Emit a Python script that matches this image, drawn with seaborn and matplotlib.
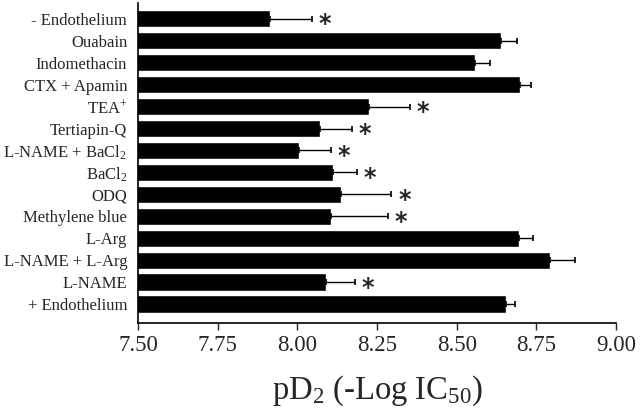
import seaborn as sns
import pandas as pd
import matplotlib.pyplot as plt

conditions = ["- Endothelium", "Ouabain", "Indomethacin", "CTX + Apamin", "TEA$^{+}$",
              "Tertiapin-Q", "L-NAME + BaCl$_2$", "BaCl$_2$", "ODQ", "Methylene blue",
              "L-Arg", "L-NAME + L-Arg", "L-NAME", "+ Endothelium"]
pd2 = [7.915, 8.64, 8.557, 8.70, 8.223, 8.07, 8.006, 8.113, 8.138, 8.104,
       8.695, 8.793, 8.09, 8.655]
sem = [0.13, 0.05, 0.047, 0.033, 0.13, 0.10, 0.098, 0.073, 0.157, 0.18,
       0.043, 0.077, 0.09, 0.028]
significant = [True, False, False, False, True, True, True, True, True, True,
               False, False, True, False]

sns.set_style("ticks")
plt.rcParams['font.family'] = ['Liberation Serif', 'DejaVu Serif']
plt.rcParams['mathtext.fontset'] = 'custom'
plt.rcParams['mathtext.rm'] = 'Liberation Serif'
plt.rcParams['mathtext.it'] = 'Liberation Serif:italic'
plt.rcParams['mathtext.bf'] = 'Liberation Serif:bold'

df = pd.DataFrame({"Condition": conditions, "pD2": pd2, "SEM": sem, "Sig": significant})

fig, ax = plt.subplots(figsize=(6.4, 4.11), dpi=100)
fig.subplots_adjust(left=0.216, right=0.9625, bottom=0.214, top=0.993)

sns.barplot(data=df, x="pD2", y="Condition", orient="h", color="black",
            width=0.78, saturation=1, errorbar=None, ax=ax)

ypos = list(range(len(df)))
ax.errorbar(df["pD2"], ypos, xerr=[[0] * len(df), df["SEM"]], fmt="none",
            ecolor="black", elinewidth=1, capsize=2.5, capthick=1.2)

# asterisks for significant differences
for y, (v, e, s) in enumerate(zip(df["pD2"], df["SEM"], df["Sig"])):
    if s:
        ax.annotate("*", xy=(v + e, y), xytext=(5, -4), textcoords="offset points",
                    ha="left", va="center", fontsize=17, fontweight="bold",
                    family="DejaVu Sans")

ax.set_xlim(7.5, 9.0)
ax.set_ylim(13.87, -0.73)
ax.set_xticks([7.5, 7.75, 8.0, 8.25, 8.5, 8.75, 9.0])
ax.set_xticklabels(["7.50", "7.75", "8.00", "8.25", "8.50", "8.75", "9.00"])
ax.tick_params(axis="x", labelsize=16.5, length=5, width=1, direction="out")
ax.tick_params(axis="y", labelsize=12, length=0, pad=8)
ax.set_xlabel("pD$_2$ (-Log IC$_{50}$)", fontsize=23.5, labelpad=13)
ax.set_ylabel("")
for sp in ["top", "right"]:
    ax.spines[sp].set_visible(False)
for sp in ["left", "bottom"]:
    ax.spines[sp].set_linewidth(1.2)
    ax.spines[sp].set_color("black")

fig.savefig("out.png", dpi=100)
